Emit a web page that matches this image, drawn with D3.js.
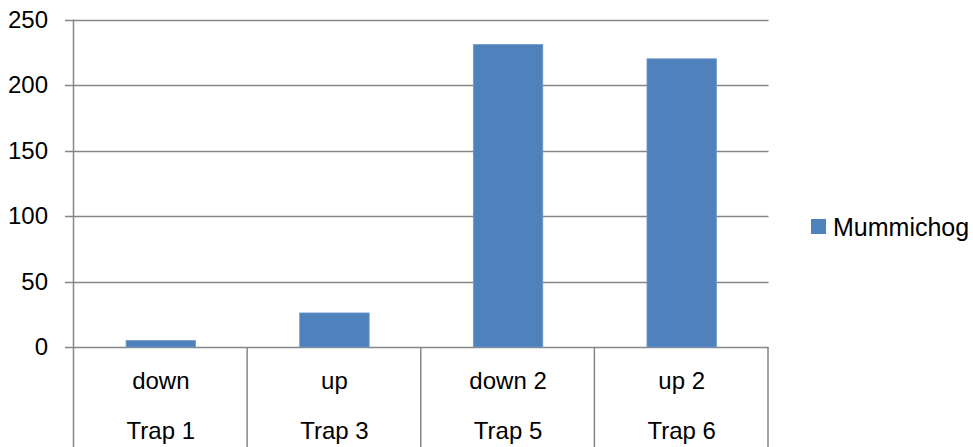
<!DOCTYPE html>
<html>
<head>
<meta charset="utf-8">
<script src="https://cdn.jsdelivr.net/npm/d3@7"></script>
<style>
  html, body { margin: 0; padding: 0; background: #fff; }
  svg { display: block; }
  text { font-family: "Liberation Sans", Arial, sans-serif; fill: #000; }
</style>
</head>
<body>
<svg id="chart" width="973" height="447"></svg>
<script>
const categories = ["down", "up", "down 2", "up 2"];
const groups = ["Trap 1", "Trap 3", "Trap 5", "Trap 6"];
const seriesName = "Mummichog";
const values = [5, 26, 231, 220];
const yTicks = [0, 50, 100, 150, 200, 250];

(function () {
const svg = d3.select("#chart");
const pLeft = 74, pRight = 768.5, pTop = 19.5, pBottom = 347;
const grid = "#868686";
const barColor = "#4F81BD";

const x = d3.scaleBand().domain(d3.range(categories.length)).range([pLeft, pRight]).paddingInner(0.6).paddingOuter(0.3);
const xb = d3.scaleBand().domain(d3.range(categories.length)).range([pLeft, pRight]);
const y = d3.scaleLinear().domain([0, 250]).range([pBottom, pTop]);

// gridlines
svg.append("g").selectAll("line").data(yTicks).join("line")
  .attr("x1", 65).attr("x2", pRight)
  .attr("y1", d => Math.round(y(d)) + 0.5).attr("y2", d => Math.round(y(d)) + 0.5)
  .attr("stroke", grid).attr("stroke-width", 1.5);

// y axis line
svg.append("line").attr("x1", pLeft - 0.5).attr("x2", pLeft - 0.5).attr("y1", pTop).attr("y2", pBottom)
  .attr("stroke", grid).attr("stroke-width", 1.5);

// y labels
svg.append("g").selectAll("text").data(yTicks).join("text")
  .attr("x", 48).attr("y", d => y(d)).attr("dy", "0.35em")
  .attr("text-anchor", "end").attr("font-size", 24).text(d => d);

// bars
svg.append("g").selectAll("rect").data(values).join("rect")
  .attr("x", (d, i) => x(i)).attr("width", x.bandwidth())
  .attr("y", d => y(d)).attr("height", d => pBottom - y(d))
  .attr("fill", barColor).attr("stroke", "#7399CB").attr("stroke-width", 0.8);

// category separators
const seps = d3.range(categories.length + 1).map(i => i < categories.length ? xb(i) : pRight);
svg.append("g").selectAll("line").data(seps).join("line")
  .attr("x1", d => d - 0.5).attr("x2", d => d - 0.5)
  .attr("y1", pBottom).attr("y2", 447)
  .attr("stroke", grid).attr("stroke-width", 1.5);

// category labels
svg.append("g").selectAll("text").data(categories).join("text")
  .attr("x", (d, i) => xb(i) + xb.bandwidth() / 2).attr("y", 381).attr("dy", "0.35em")
  .attr("text-anchor", "middle").attr("font-size", 24).text(d => d);
svg.append("g").selectAll("text").data(groups).join("text")
  .attr("x", (d, i) => xb(i) + xb.bandwidth() / 2).attr("y", 431).attr("dy", "0.35em")
  .attr("text-anchor", "middle").attr("font-size", 24).text(d => d);

// legend
svg.append("rect").attr("x", 811).attr("y", 219).attr("width", 15).attr("height", 15).attr("fill", barColor);
svg.append("text").attr("x", 833).attr("y", 227).attr("dy", "0.35em").attr("font-size", 25).text(seriesName);
})();
</script>
</body>
</html>
